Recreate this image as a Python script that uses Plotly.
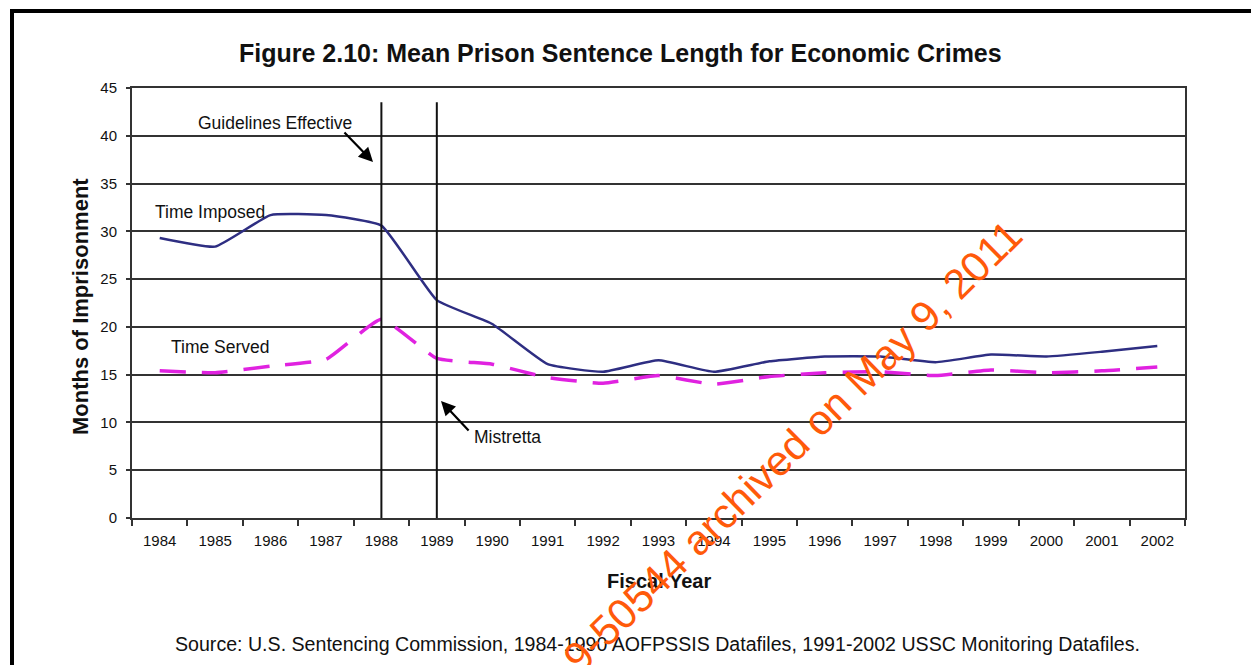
import plotly.graph_objects as go

# ---------------- data ----------------
years = [1984, 1985, 1986, 1987, 1988, 1989, 1990, 1991, 1992, 1993,
         1994, 1995, 1996, 1997, 1998, 1999, 2000, 2001, 2002]
time_imposed = [29.3, 28.4, 31.7, 31.7, 30.6, 22.8, 20.3, 16.1, 15.3, 16.5,
                15.3, 16.4, 16.9, 16.9, 16.3, 17.1, 16.9, 17.4, 18.0]
time_served = [15.4, 15.2, 15.9, 16.6, 20.8, 16.7, 16.1, 14.7, 14.1, 14.9,
               14.0, 14.8, 15.2, 15.3, 14.9, 15.5, 15.2, 15.4, 15.8]
y_ticks = [0, 5, 10, 15, 20, 25, 30, 35, 40, 45]
event_years = [1988, 1989]
event_line_top = 43.5

title_text = "Figure 2.10: Mean Prison Sentence Length for Economic Crimes"
x_title = "Fiscal Year"
y_title = "Months of Imprisonment"
source_text = ("Source: U.S. Sentencing Commission, 1984-1990 AOFPSSIS Datafiles, "
               "1991-2002 USSC Monitoring Datafiles.")
watermark = "9-50544 archived on May 9, 2011"

# ---------------- layout geometry ----------------
W, H = 1251, 665
ML, MR, MT, MB = 132, 66, 88, 147
PW, PH = W - ML - MR, H - MT - MB


def px(xp):
    return (xp - ML) / PW


def py(yp):
    return (H - MB - yp) / PH


cats = [str(y) for y in years]
FONT = "Liberation Sans, Arial, sans-serif"

fig = go.Figure()
fig.add_trace(go.Scatter(
    x=cats, y=time_imposed, mode="lines", name="Time Imposed",
    line=dict(color="#2E2E82", width=2.5, shape="spline", smoothing=0.4),
    showlegend=False))
fig.add_trace(go.Scatter(
    x=cats, y=time_served, mode="lines", name="Time Served",
    line=dict(color="#E022E0", width=3.5, dash="26px,16px",
              shape="spline", smoothing=0.4),
    showlegend=False))

shapes = []
for ev in event_years:
    i = cats.index(str(ev))
    shapes.append(dict(type="line", xref="x", yref="y", x0=i, x1=i,
                       y0=0, y1=event_line_top,
                       line=dict(color="#111111", width=2)))
# outer frame (extends beyond the page on right/bottom)
shapes.append(dict(type="rect", xref="paper", yref="paper",
                   x0=px(12), x1=px(1275), y0=py(11), y1=py(690),
                   line=dict(color="#000000", width=4), layer="above"))

ann = []
ann.append(dict(text="<b>" + title_text + "</b>", xref="paper", yref="paper",
                x=px(620), y=py(53), showarrow=False, xanchor="center",
                yanchor="middle", font=dict(size=25, color="#111111", family=FONT)))
ann.append(dict(text="<b>" + x_title + "</b>", xref="paper", yref="paper",
                x=px(659), y=py(581), showarrow=False, xanchor="center",
                yanchor="middle", font=dict(size=20, color="#111111", family=FONT)))
ann.append(dict(text="<b>" + y_title + "</b>", xref="paper", yref="paper",
                x=px(80), y=py(307), showarrow=False, xanchor="center",
                yanchor="middle", textangle=-90,
                font=dict(size=22, color="#111111", family=FONT)))
ann.append(dict(text=source_text, xref="paper", yref="paper",
                x=px(657), y=py(644), showarrow=False, xanchor="center",
                yanchor="middle", font=dict(size=19.6, color="#111111", family=FONT)))

label_font = dict(size=17.5, color="#111111", family=FONT)
for txt, cx, cy in [("Guidelines Effective", 275, 123),
                    ("Time Imposed", 210, 212),
                    ("Time Served", 220, 347),
                    ("Mistretta", 507, 437)]:
    ann.append(dict(text=txt, xref="paper", yref="paper", x=px(cx), y=py(cy),
                    xanchor="center", yanchor="middle", showarrow=False,
                    font=label_font))
# arrows
ann.append(dict(text="", xref="paper", yref="paper", x=px(373), y=py(162),
                ax=-30, ay=-31, showarrow=True, arrowhead=2, arrowsize=1.3,
                arrowwidth=2.2, arrowcolor="#000000"))
ann.append(dict(text="", xref="paper", yref="paper", x=px(441), y=py(401),
                ax=29, ay=31, showarrow=True, arrowhead=2, arrowsize=1.3,
                arrowwidth=2.2, arrowcolor="#000000"))
# watermark
ann.append(dict(text=watermark, xref="paper", yref="paper",
                x=px(792), y=py(446), showarrow=False, xanchor="center",
                yanchor="middle", textangle=-44.5,
                font=dict(size=42, color="#FF5A0A", family=FONT)))

fig.update_layout(
    width=W, height=H,
    margin=dict(l=ML, r=MR, t=MT, b=MB, autoexpand=False),
    paper_bgcolor="white", plot_bgcolor="white",
    shapes=shapes, annotations=ann,
    xaxis=dict(type="category", range=[-0.5, len(cats) - 0.5],
               tickson="boundaries", ticks="outside", ticklen=6,
               tickwidth=2, tickcolor="#333333", showgrid=False,
               showline=True, linecolor="#333333", linewidth=2, mirror=True,
               tickfont=dict(size=15, color="#111111", family=FONT),
               ticklabelstandoff=8, zeroline=False, fixedrange=True),
    yaxis=dict(range=[0, 45], tickvals=y_ticks, ticks="outside", ticklen=4,
               tickwidth=2, tickcolor="#333333", showgrid=True,
               gridcolor="#333333", gridwidth=2, showline=True,
               linecolor="#333333", linewidth=2, mirror=True, zeroline=False,
               tickfont=dict(size=15, color="#111111", family=FONT),
               ticklabelstandoff=6, fixedrange=True),
)

fig.write_html("out.html", config={"displayModeBar": False},
               post_script="document.body.style.margin='0px';"
                           "document.body.style.overflow='hidden';")
